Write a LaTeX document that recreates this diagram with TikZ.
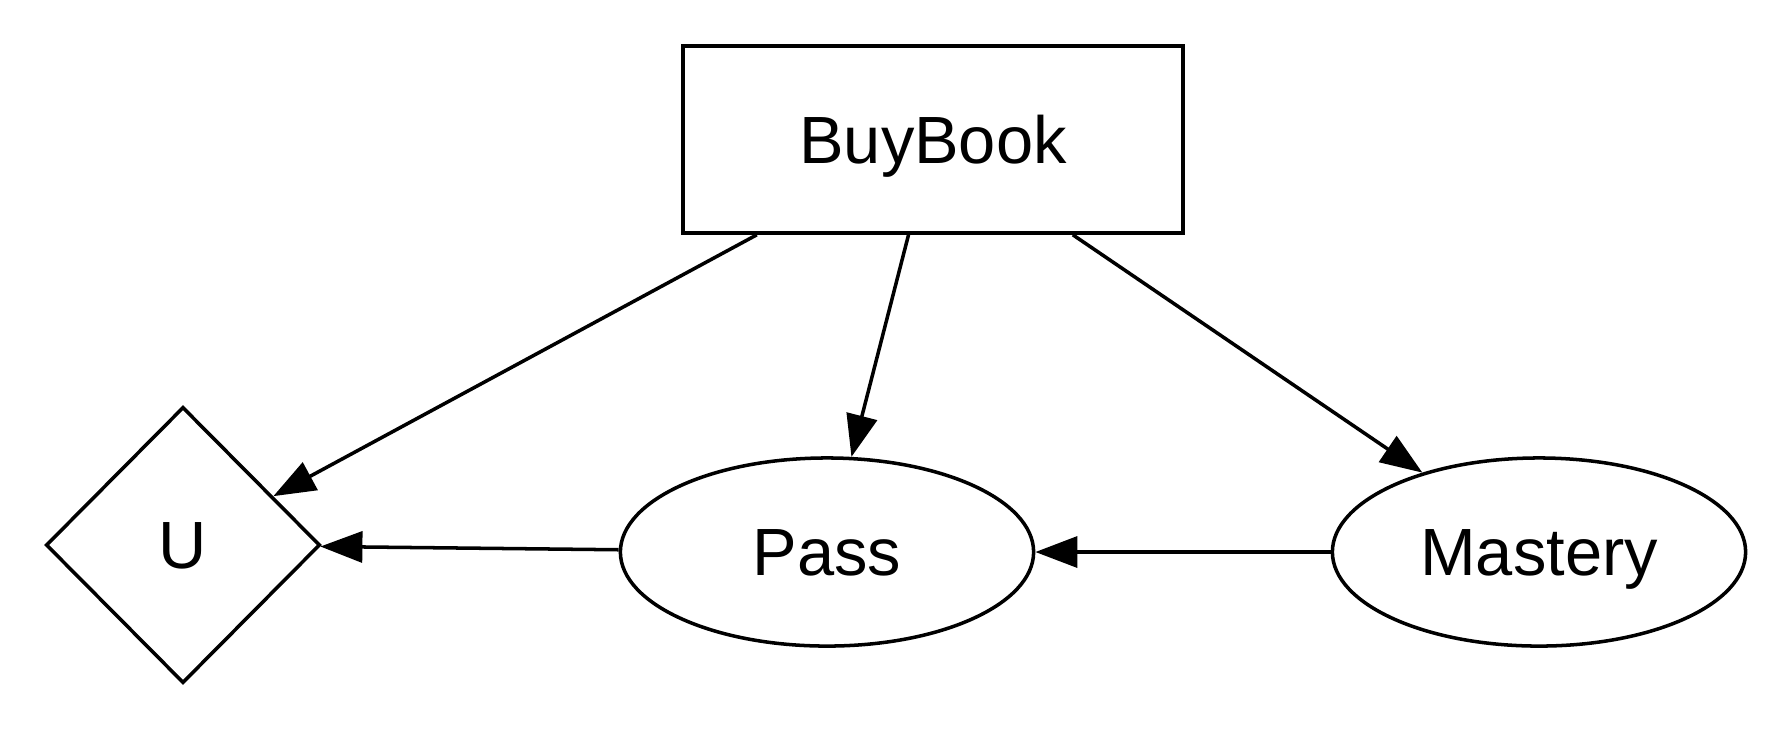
\documentclass[tikz,border=0pt]{standalone}
\usepackage{fontspec}
\setmainfont{Liberation Sans}
\usetikzlibrary{arrows.meta, positioning, shapes.geometric}

\begin{document}
\begin{tikzpicture}[
    x=0.01cm, y=-0.01cm,
    every node/.style={line width=1pt, inner sep=0pt, text depth=0pt, font=\fontsize{19}{23}\selectfont},
    decision/.style={draw, rectangle, minimum width=5cm, minimum height=1.87cm},
    chance/.style={draw, ellipse, minimum width=4.13cm, minimum height=1.88cm},
    utility/.style={draw, diamond, aspect=1, minimum width=2.74cm, minimum height=2.76cm},
    link/.style={line width=1pt, -{Triangle[length=0.42cm, width=0.31cm]}}
]
\useasboundingbox (0,0) rectangle (1791,729);

% Nodos
\node[decision] (buybook) at (933,139.5) {BuyBook};
\node[utility]  (u)       at (183,545)   {U};
\node[chance]   (pass)    at (827,552)   {Pass};
\node[chance]   (mastery) at (1539,552)  {Mastery};

% Arcos
\draw[link] (buybook) -- (u);
\draw[link] (buybook) -- (pass);
\draw[link] (buybook) -- (mastery);
\draw[link] (pass) -- (u);
\draw[link] (mastery) -- (pass);

\end{tikzpicture}
\end{document}
